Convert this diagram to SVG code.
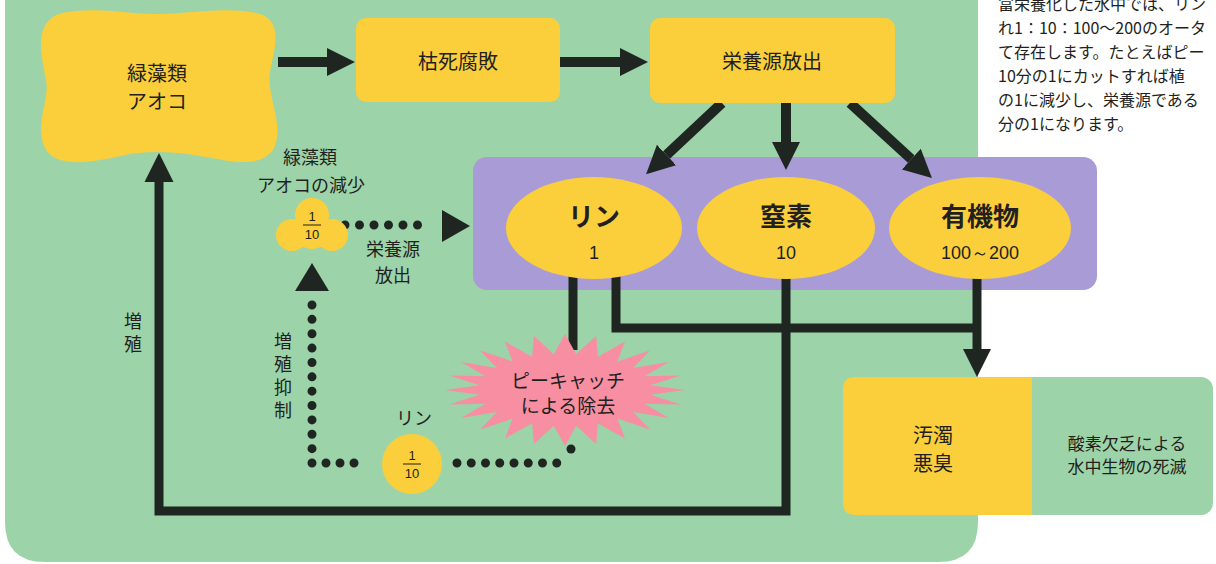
<svg xmlns="http://www.w3.org/2000/svg" width="1216" height="564" viewBox="0 0 1216 564">
<defs>
<style>
text{font-family:"Noto Sans CJK JP","Noto Sans",sans-serif;fill:#231f20;}
.t20{font-size:20px;text-anchor:middle;}
.t19{font-size:19px;text-anchor:middle;}
.t18{font-size:18px;text-anchor:middle;}
.t17{font-size:17px;text-anchor:middle;}
.vert{font-size:18px;writing-mode:vertical-rl;text-orientation:upright;letter-spacing:5px;}
.big{font-size:26px;font-weight:bold;text-anchor:middle;}
.num{font-size:18px;text-anchor:middle;font-family:"Liberation Sans",Arial,sans-serif;}
.frac{font-size:13px;text-anchor:middle;font-family:"Liberation Sans",Arial,sans-serif;}
.body{font-size:16px;}
.yel{fill:#fbcf3b;}
.line{fill:none;stroke:#1f2622;stroke-width:9;stroke-linejoin:miter;}
.top{stroke-width:10;}
.dots{fill:none;stroke:#1f2622;stroke-width:9;stroke-linecap:round;}
.head{fill:#1f2622;}
</style>
<marker id="ah" viewBox="0 0 10 10" refX="0" refY="5" markerUnits="userSpaceOnUse" markerWidth="28" markerHeight="32" orient="auto"><path d="M0,0 L10,5 L0,10 Z" fill="#1f2622"/></marker>
<marker id="ah2" viewBox="0 0 10 10" refX="0" refY="5" markerUnits="userSpaceOnUse" markerWidth="29" markerHeight="34" orient="auto"><path d="M0,0 L10,5 L0,10 Z" fill="#1f2622"/></marker>
</defs>
<rect width="1216" height="564" fill="#ffffff"/>
<path d="M5,0 H978 V522 Q978,562 938,562 H45 Q5,562 5,522 Z" fill="#9dd3a8"/>
<g id="info-text">
<text class="body" x="998" y="10">富栄養化した水中では、リン</text>
<text class="body" x="998" y="34">れ1∶10∶100～200のオータ</text>
<text class="body" x="998" y="58">て存在します。たとえばピー</text>
<text class="body" x="998" y="82">10分の1にカットすれば植</text>
<text class="body" x="998" y="106">の1に減少し、栄養源である</text>
<text class="body" x="998" y="130">分の1になります。</text>
</g>
<g id="nutrients-panel"><rect x="473" y="157" width="624" height="133" rx="14" fill="#a99bd6"/></g>
<g id="connectors">
<path class="line top" d="M278,62 H327" marker-end="url(#ah)"/>
<path class="line top" d="M560,62 H620" marker-end="url(#ah)"/>
<path class="line top" d="M786,103 V142" marker-end="url(#ah)"/>
<path class="line top" d="M722,103 L666.5,155" marker-end="url(#ah)"/>
<path class="line top" d="M850,103 L911.3,159.1" marker-end="url(#ah)"/>
<path class="line" d="M573,270 V350"/>
<path class="line" d="M616,270 V328 H977"/>
<path class="line" d="M977,270 V349" marker-end="url(#ah)"/>
<path class="line" d="M786,270 V511 H159 V182" marker-end="url(#ah2)"/>
<path class="dots" d="M345,225 H432" stroke-dasharray="0 14.5"/>
<polygon class="head" points="442,210 470,226 442,242"/>
<polygon class="head" points="312,263 295,291 329,291"/>
<path class="dots" d="M312,305 V463" stroke-dasharray="0 14.364"/>
<path class="dots" d="M312,463 H368" stroke-dasharray="0 14"/>
<path class="dots" d="M457,463 H571" stroke-dasharray="0 14.25"/>
<path class="dots" d="M571,449 V463" stroke-dasharray="0 14"/>
</g>
<g id="algae">
<path class="yel" d="M62,13 C100,6 130,15 160,14 C195,13 230,6 260,14 C284,22 274,50 270,72 C266,96 286,126 273,150 C258,170 225,160 200,156 C175,152 150,150 125,155 C95,162 54,170 44,146 C35,122 50,100 46,80 C42,58 32,21 62,13 Z"/>
<text class="t20" x="157" y="81">緑藻類</text>
<text class="t20" x="157" y="109">アオコ</text>
</g>
<g id="decay">
<rect class="yel" x="356" y="18" width="204" height="84" rx="10"/>
<text class="t20" x="458" y="69">枯死腐敗</text>
</g>
<g id="release">
<rect class="yel" x="650" y="18" width="245" height="85" rx="10"/>
<text class="t20" x="772" y="69">栄養源放出</text>
</g>
<g id="phosphorus">
<ellipse class="yel" cx="594" cy="228" rx="88" ry="51"/>
<text class="big" x="594" y="226">リン</text>
<text class="num" x="594" y="259">1</text>
</g>
<g id="nitrogen">
<ellipse class="yel" cx="786" cy="228" rx="89" ry="51"/>
<text class="big" x="786" y="226">窒素</text>
<text class="num" x="786" y="259">10</text>
</g>
<g id="organic">
<ellipse class="yel" cx="980" cy="228" rx="91" ry="51"/>
<text class="big" x="980" y="226">有機物</text>
<text class="num" x="980" y="259">100～200</text>
</g>
<g id="algae-decrease">
<text class="t18" x="310" y="164">緑藻類</text>
<text class="t18" x="311" y="192">アオコの減少</text>
<circle class="yel" cx="312" cy="215" r="17"/>
<circle class="yel" cx="292" cy="235" r="16"/>
<circle class="yel" cx="332" cy="235" r="16"/>
<circle class="yel" cx="312" cy="230" r="19"/>
<text class="frac" x="312" y="221">1</text>
<line x1="303" y1="225" x2="321" y2="225" stroke="#231f20" stroke-width="1"/>
<text class="frac" x="312" y="239">10</text>
</g>
<g id="release-label">
<text class="t18" x="393" y="256">栄養源</text>
<text class="t18" x="393" y="282">放出</text>
</g>
<g id="growth-label">
<text class="vert" x="133" y="312">増殖</text>
</g>
<g id="suppress-label">
<text class="vert" x="283" y="332">増殖抑制</text>
</g>
<g id="phosphorus-tenth">
<text class="t18" x="414" y="425">リン</text>
<circle class="yel" cx="412" cy="464" r="30"/>
<text class="frac" x="412" y="460">1</text>
<line x1="403" y1="464" x2="421" y2="464" stroke="#231f20" stroke-width="1"/>
<text class="frac" x="412" y="478">10</text>
</g>
<g id="pcatch">
<polygon fill="#f78ea2" points="685,390 650.3,394.7 680.9,404.5 644.5,403.8 668.9,418 633.2,411.9 649.9,429.6 617.4,418.6 625,438.5 597.9,423.3 596.1,444.1 576.2,425.7 565,446 553.8,425.7 533.9,444.1 532.1,423.3 505,438.5 512.6,418.6 480.1,429.6 496.8,411.9 461.1,418 485.5,403.8 449.1,404.5 479.7,394.7 445,390 479.7,385.3 449.1,375.5 485.5,376.2 461.1,362 496.8,368.1 480.1,350.4 512.6,361.4 505,341.5 532.1,356.7 533.9,335.9 553.8,354.3 565,334 576.2,354.3 596.1,335.9 597.9,356.7 625,341.5 617.4,361.4 649.9,350.4 633.2,368.1 668.9,362 644.5,376.2 680.9,375.5 650.3,385.3"/>
<text class="t19" x="568" y="388">ピーキャッチ</text>
<text class="t19" x="568" y="413">による除去</text>
</g>
<g id="pollution">
<rect x="843" y="377" width="370" height="138" rx="12" fill="#9dd3a8"/>
<path class="yel" d="M855,377 H1032 V515 H855 Q843,515 843,503 V389 Q843,377 855,377 Z"/>
<text class="t20" x="933" y="443">汚濁</text>
<text class="t20" x="933" y="471">悪臭</text>
<text class="t17" x="1127" y="450">酸素欠乏による</text>
<text class="t17" x="1127" y="473">水中生物の死滅</text>
</g>
</svg>
